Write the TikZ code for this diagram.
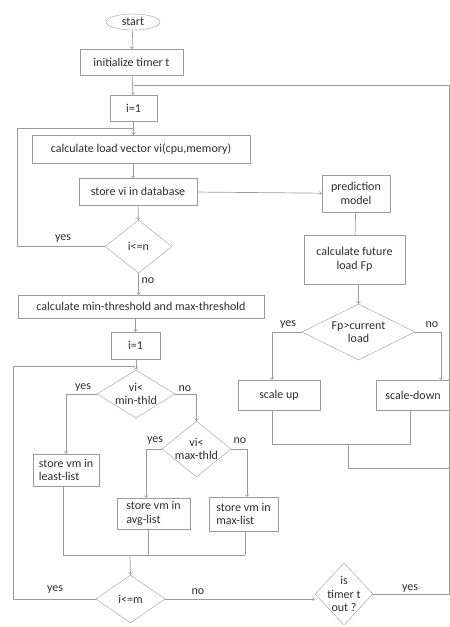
\documentclass[tikz,border=0pt]{standalone}
\usepackage{fontspec}
\setmainfont{Carlito}
\usetikzlibrary{shapes,positioning,calc}
\usetikzlibrary{shapes.geometric}
\usetikzlibrary{arrows}
\definecolor{lineg}{RGB}{155,155,155}
\definecolor{textg}{RGB}{45,45,45}

\begin{document}
\begin{tikzpicture}[
x=1pt, y=-1pt,
font=\fontsize{12}{13.5}\selectfont, text=textg,
box/.style={rectangle, draw=lineg, inner sep=1pt, align=center},
listbox/.style={rectangle, draw=lineg, inner sep=2pt, align=left},
term/.style={ellipse, draw=lineg, inner sep=0pt},
dec/.style={diamond, draw=lineg, inner sep=0pt},
dtext/.style={label={[align=center, inner sep=0pt, text=textg]center:#1}},
flow/.style={draw=lineg, line width=0.7pt},
lbl/.style={inner sep=1pt}
]
\useasboundingbox (0,0) rectangle (450,627);

% main column
\node[term] (start) at (133,22) [minimum width=54pt, minimum height=16pt] {start};
\node[box] (init) at (131.5,62) [minimum width=103pt, minimum height=26pt] {initialize timer t};
\node[box] (ione) at (133.5,108) [minimum width=47pt, minimum height=26pt] {i=1};
\node[box] (calc) at (141,149) [minimum width=218pt, minimum height=28pt] {calculate load vector vi(cpu,memory)};
\node[box] (store) at (138,191.5) [minimum width=118pt, minimum height=27pt] {store vi in database};
\node[dec, dtext={i<=n}] (chkn) at (138.5,246.5) [minimum width=67pt, minimum height=53pt] {};
\node[box] (thr) at (141,306.5) [minimum width=246pt, minimum height=23pt] {calculate min-threshold and max-threshold};
\node[box] (itwo) at (135.5,345.5) [minimum width=49pt, minimum height=27pt] {i=1};
\node[dec, dtext={vi<\\min-thld}] (chkmin) at (136,394) [minimum width=78pt, minimum height=48pt] {};
\node[dec, dtext={vi<\\max-thld}] (chkmax) at (196.5,449) [minimum width=69pt, minimum height=56pt] {};
\node[listbox] (least) at (66,470) [minimum width=66pt, minimum height=32pt] {store vm in\\least-list};
\node[listbox] (avg) at (153.5,513.5) [minimum width=73pt, minimum height=31pt] {store vm in\\avg-list};
\node[listbox] (maxl) at (243.5,514) [minimum width=69pt, minimum height=34pt] {store vm in\\max-list};
\node[dec, dtext={i<=m}] (chkm) at (130.5,599) [minimum width=69pt, minimum height=48pt] {};
\node[dec, dtext={is\\timer t\\out ?}] (timer) at (344,594) [minimum width=58pt, minimum height=62pt] {};

% prediction column
\node[box] (pred) at (356,193.5) [minimum width=68pt, minimum height=37pt] {prediction\\model};
\node[box] (future) at (354.5,259.5) [minimum width=101pt, minimum height=49pt] {calculate future\\load Fp};
\node[dec, dtext={Fp>current\\load}] (chkfp) at (358.5,332) [minimum width=113pt, minimum height=56pt] {};
\node[box] (up) at (279,395) [minimum width=82pt, minimum height=30pt] {scale up};
\node[box] (down) at (413,395) [minimum width=74pt, minimum height=30pt] {scale-down};

% join points
\coordinate (topj) at (134,85);
\coordinate (redge) at (449.5,85);
\coordinate (loopn) at (134,128);
\coordinate (loopm) at (135,366);
\coordinate (merge) at (130,555);
\coordinate (scalej) at (348,444);

% connectors
\draw[flow,->] (start) -- (init);
\draw[flow,->] (init) -- (ione);
\draw[flow,->] (ione.south) -- (ione.south |- calc.north);
\draw[flow,->] (133,163) -- (133,178);
\draw[flow,->] (store) -- (pred);
\draw[flow,->] (store) -- (chkn);
\draw[flow] (chkn.west) -- (17,246.5) -- (17,128) -- (loopn);
\node[lbl] (yesn) at (63,239) {yes};
\draw[flow,->] (chkn.south) -- (chkn.south |- thr.north);
\node[lbl] (non) at (148,281) {no};
\draw[flow,->] (thr.south -| itwo) -- (itwo.north);
\draw[flow,->] (itwo.south -| chkmin) -- (chkmin.north);
\draw[flow,->] (chkmin.west) -| (least.north);
\node[lbl] (yesmin) at (83,388) {yes};
\draw[flow,->] (chkmin.east) -| (chkmax.north);
\node[lbl] (nomin) at (185,389) {no};
\draw[flow,->] (chkmax.west) -| (avg.north -| 146,0);
\node[lbl] (yesmax) at (155,441) {yes};
\draw[flow,->] (chkmax.east) -| (maxl.north -| 247,0);
\node[lbl] (nomax) at (240,441) {no};
\draw[flow] (least.south -| 63,0) -- (63,555) -- (245,555);
\draw[flow] (avg.south -| 148,0) -- (148,555);
\draw[flow] (maxl.south -| 245,0) -- (245,555);
\draw[flow,->] (merge) -- (chkm.north);
\draw[flow] (chkm.west) -- (13,599) -- (13,366) -- (loopm);
\node[lbl] (yesm) at (55,590) {yes};
\draw[flow,->] (chkm.east) -- (timer.west |- chkm.east);
\node[lbl] (nom) at (198,592) {no};
\draw[flow] (timer.east) -- (timer.east -| redge);
\node[lbl] (yest) at (410,589) {yes};

\draw[flow] (pred) -- (future);
\draw[flow,->] (future.south -| chkfp) -- (chkfp.north);
\draw[flow,->] (chkfp.west) -| (up.north -| 272,0);
\node[lbl] (yesfp) at (288,325) {yes};
\draw[flow,->] (chkfp.east) -| (down.north -| 441,0);
\node[lbl] (nofp) at (432,325) {no};
\draw[flow] (up.south -| 272,0) -- (272,444) -- (410,444) -- (down.south -| 410,0);
\draw[flow] (scalej) -- (348,468) -- (449.5,468);
\draw[flow] (timer.east -| redge) -- (redge) -- (topj);
\end{tikzpicture}
\end{document}
